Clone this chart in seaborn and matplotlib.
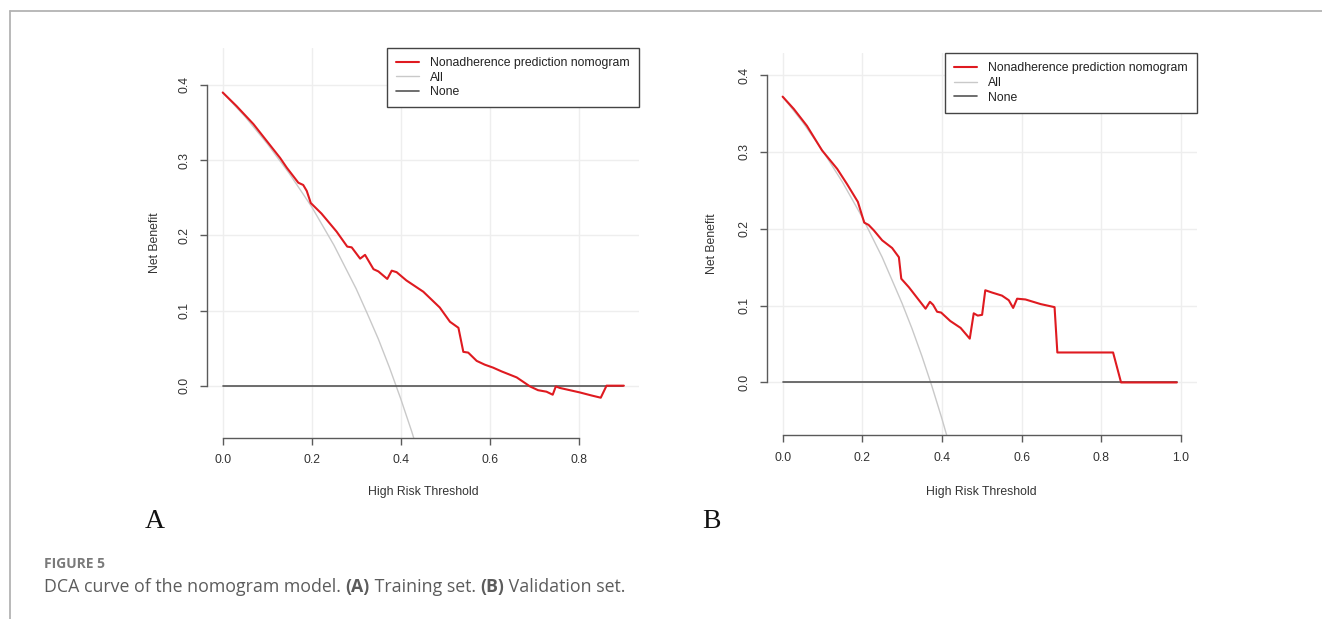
import matplotlib
matplotlib.use("Agg")
import matplotlib.pyplot as plt
from matplotlib.lines import Line2D
import seaborn as sns
import pandas as pd

# ---------------- data ----------------
# Panel A: training set
a_model_t = [0.000, 0.031, 0.069, 0.129, 0.144, 0.170, 0.181, 0.189, 0.198, 0.222, 0.256,
             0.280, 0.290, 0.309, 0.320, 0.339, 0.350, 0.370, 0.380, 0.391, 0.413, 0.451,
             0.488, 0.511, 0.530, 0.541, 0.552, 0.571, 0.589, 0.608, 0.627, 0.661, 0.691,
             0.709, 0.728, 0.742, 0.749, 0.758, 0.803, 0.829, 0.850, 0.863, 0.902]
a_model_nb = [0.390, 0.372, 0.348, 0.303, 0.290, 0.270, 0.267, 0.259, 0.243, 0.229, 0.205,
              0.185, 0.184, 0.169, 0.174, 0.155, 0.152, 0.142, 0.153, 0.151, 0.140, 0.125,
              0.104, 0.085, 0.077, 0.045, 0.044, 0.033, 0.028, 0.024, 0.019, 0.011, -0.001,
              -0.006, -0.008, -0.012, -0.001, -0.003, -0.009, -0.013, -0.016, 0.000, 0.000]
a_all_t = [0.00, 0.05, 0.10, 0.15, 0.20, 0.25, 0.30, 0.325, 0.35, 0.375, 0.40, 0.425, 0.45]
a_all_nb = [0.390, 0.358, 0.322, 0.282, 0.238, 0.187, 0.129, 0.096, 0.062, 0.024, -0.017, -0.061, -0.109]
a_none_t = [0.0, 0.90]
a_none_nb = [0.0, 0.0]

# Panel B: validation set
b_model_t = [0.000, 0.028, 0.061, 0.099, 0.137, 0.162, 0.189, 0.205, 0.216, 0.229, 0.250,
             0.275, 0.292, 0.298, 0.317, 0.359, 0.370, 0.378, 0.388, 0.398, 0.421, 0.447,
             0.470, 0.480, 0.490, 0.501, 0.509, 0.526, 0.551, 0.568, 0.579, 0.589, 0.610,
             0.648, 0.683, 0.690, 0.830, 0.850, 0.990]
b_model_nb = [0.372, 0.356, 0.334, 0.302, 0.278, 0.258, 0.235, 0.208, 0.205, 0.198, 0.185,
              0.175, 0.163, 0.135, 0.124, 0.096, 0.105, 0.101, 0.092, 0.091, 0.080, 0.071,
              0.057, 0.090, 0.087, 0.088, 0.120, 0.117, 0.113, 0.107, 0.097, 0.109, 0.108,
              0.102, 0.098, 0.039, 0.039, 0.000, 0.000]
b_all_t = [0.00, 0.05, 0.10, 0.15, 0.20, 0.25, 0.30, 0.325, 0.35, 0.375, 0.40, 0.425]
b_all_nb = [0.372, 0.339, 0.302, 0.261, 0.215, 0.163, 0.103, 0.070, 0.034, -0.005, -0.047, -0.092]
b_none_t = [0.0, 0.99]
b_none_nb = [0.0, 0.0]

legend_labels = ["Nonadherence prediction nomogram", "All", "None"]
x_ticks_a = [0.0, 0.2, 0.4, 0.6, 0.8]
x_ticks_b = [0.0, 0.2, 0.4, 0.6, 0.8, 1.0]
y_ticks = [0.0, 0.1, 0.2, 0.3, 0.4]
panel_letters = ["A", "B"]
fig_label = "FIGURE 5"
caption_parts = [("DCA curve of the nomogram model. ", "normal"), ("(A)", "bold"),
                 (" Training set. ", "normal"), ("(B)", "bold"), (" Validation set.", "normal")]

# ---------------- style ----------------
sns.set_style("white")
plt.rcParams["font.family"] = ["Liberation Sans", "DejaVu Sans"]

RED = "#df1a20"
ALLC = "#c9c9c9"
NONEC = "#555555"
AXC = "#5a5a5a"
TXT = "#333333"
FS = 8.8
LFS = 8.8

W, H = 1322, 619
fig = plt.figure(figsize=(W / 100, H / 100), dpi=100)


def px_axes(x0, y0, x1, y1):
    return fig.add_axes([x0 / W, 1 - y1 / H, (x1 - x0) / W, (y1 - y0) / H])


def draw_panel(ax, mt, mnb, at, anb, nt, nnb, xlim, ylim, xticks, xmax_tick):
    df_all = pd.DataFrame({"t": at, "nb": anb})
    df_none = pd.DataFrame({"t": nt, "nb": nnb})
    df_mod = pd.DataFrame({"t": mt, "nb": mnb})
    sns.lineplot(data=df_all, x="t", y="nb", ax=ax, color=ALLC, lw=1.0,
                 estimator=None, sort=False, label=legend_labels[1])
    sns.lineplot(data=df_none, x="t", y="nb", ax=ax, color=NONEC, lw=1.2,
                 estimator=None, sort=False, label=legend_labels[2])
    sns.lineplot(data=df_mod, x="t", y="nb", ax=ax, color=RED, lw=1.5,
                 estimator=None, sort=False, label=legend_labels[0])
    ax.set_xlim(*xlim)
    ax.set_ylim(*ylim)
    ax.set_xticks(xticks)
    ax.set_xticklabels([f"{v:.1f}" for v in xticks])
    ax.set_yticks(y_ticks)
    ax.set_yticklabels([f"{v:.1f}" for v in y_ticks], rotation=90, va="center")
    ax.grid(True, color="#eeeeee", lw=1.0)
    ax.set_axisbelow(True)
    for s in ["top", "right"]:
        ax.spines[s].set_visible(False)
    for s in ["left", "bottom"]:
        ax.spines[s].set_color(AXC)
        ax.spines[s].set_linewidth(1.0)
    ax.spines["left"].set_bounds(0.0, 0.4)
    ax.spines["bottom"].set_bounds(0.0, xmax_tick)
    ax.tick_params(axis="both", direction="out", length=5, width=1.0, color=AXC,
                   labelsize=FS, labelcolor=TXT, pad=7, left=True, bottom=True)
    ax.set_xlabel("High Risk Threshold", fontsize=FS, color=TXT)
    ax.set_ylabel("Net Benefit", fontsize=FS, color=TXT)
    h, l = ax.get_legend_handles_labels()
    order = [l.index(x) for x in legend_labels]
    leg = ax.legend([h[i] for i in order], [l[i] for i in order], loc="upper right",
                    bbox_to_anchor=(1.0, 1.0), borderaxespad=0.0, frameon=True,
                    fancybox=False, framealpha=1.0, edgecolor="#444444", fontsize=LFS,
                    handlelength=1.9, handletextpad=0.9, labelspacing=0.22,
                    borderpad=0.74)
    leg.get_frame().set_linewidth(1.0)
    for t in leg.get_texts():
        t.set_color("#222222")
    return ax


boxA = (206.7, 48.0, 639.0, 437.7)
boxB = (766.7, 53.3, 1196.7, 435.0)
axA = px_axes(*boxA)
draw_panel(axA, a_model_t, a_model_nb, a_all_t, a_all_nb, a_none_t, a_none_nb,
           (-0.036, 0.936), (-0.0692, 0.4492), x_ticks_a, 0.8)
axB = px_axes(*boxB)
draw_panel(axB, b_model_t, b_model_nb, b_all_t, b_all_nb, b_none_t, b_none_nb,
           (-0.04, 1.04), (-0.0684, 0.4284), x_ticks_b, 1.0)

# axis label positions
for ax, (x0, y0, x1, y1), ylab_x in [(axA, boxA, 155.0), (axB, boxB, 712.0)]:
    h = y1 - y0
    w = x1 - x0
    ax.xaxis.set_label_coords(0.5, (y1 - 492.0) / h)
    ax.xaxis.label.set_verticalalignment("center")
    ax.yaxis.set_label_coords((ylab_x - x0) / w, 0.5)
    ax.yaxis.label.set_horizontalalignment("center")
    ax.yaxis.label.set_verticalalignment("center")

# panel letters
for lx, letter in zip([155, 711], panel_letters):
    fig.text(lx / W, 1 - 522 / H, letter, family=["Liberation Serif", "DejaVu Serif"],
             fontsize=20, ha="center", va="center", color="#111111")

# page frame lines
fig.add_artist(Line2D([9.5 / W, 1.0], [1 - 10.5 / H, 1 - 10.5 / H], color="#b3b3b3", lw=1.3))
fig.add_artist(Line2D([9.5 / W, 9.5 / W], [1 - 10.5 / H, 0.0], color="#b3b3b3", lw=1.3))

# caption
fig.text(44 / W, 1 - 564 / H, fig_label, family=["Open Sans", "DejaVu Sans"], fontsize=10,
         fontweight="bold", color="#7a7a7a", ha="left", va="center")
fig.canvas.draw()
renderer = fig.canvas.get_renderer()
x = 44.0
for txt, wt in caption_parts:
    t = fig.text(x / W, 1 - 587 / H, txt, family=["Open Sans", "DejaVu Sans"], fontsize=12.8,
                 fontweight=wt, color="#5c5c5c", ha="left", va="center")
    bb = t.get_window_extent(renderer=renderer)
    x += bb.width

fig.savefig("out.png", dpi=100)
